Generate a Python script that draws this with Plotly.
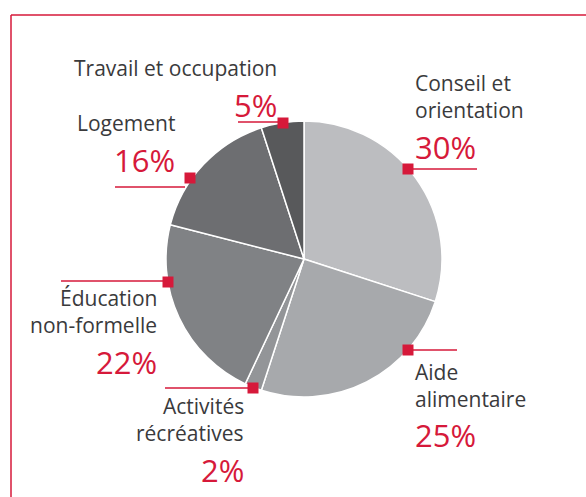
import plotly.graph_objects as go

W, H = 586, 497

categories = ["Conseil et orientation", "Aide alimentaire", "Activités récréatives",
              "Éducation non-formelle", "Logement", "Travail et occupation"]
values = [30, 25, 2, 22, 16, 5]
label_lines = [["Conseil et", "orientation"], ["Aide", "alimentaire"], ["Activités", "récréatives"],
               ["Éducation", "non-formelle"], ["Logement"], ["Travail et occupation"]]
pct_labels = [f"{v}%" for v in values]
slice_colors = ["#bcbdc0", "#a7a9ac", "#939598", "#808285", "#6d6e71", "#58595b"]

RED = "#d6193a"
TXT = "#3a3a3c"
FONT = "Open Sans"

def px(x, y):
    return x / W, 1 - y / H

cx, cy, r = 304, 259, 138

fig = go.Figure(go.Pie(
    labels=categories, values=values, sort=False, direction="clockwise", rotation=0,
    marker=dict(colors=slice_colors, line=dict(color="white", width=1.5)),
    textinfo="none", hoverinfo="label+percent", showlegend=False,
    domain=dict(x=[(cx - r) / W, (cx + r) / W], y=[1 - (cy + r) / H, 1 - (cy - r) / H]),
))

shapes = []
def line(x0, y0, x1, y1, w=1.5):
    a = px(x0, y0); b = px(x1, y1)
    shapes.append(dict(type="line", xref="paper", yref="paper", x0=a[0], y0=a[1], x1=b[0], y1=b[1],
                       line=dict(color=RED, width=w)))
def square(x, y, s=11):
    a = px(x - s / 2, y - s / 2); b = px(x + s / 2, y + s / 2)
    shapes.append(dict(type="rect", xref="paper", yref="paper", x0=a[0], y0=a[1], x1=b[0], y1=b[1],
                       fillcolor=RED, line=dict(width=0)))

# frame
line(11, 15, W + 2, 15)
line(11, 15, 11, H + 2)

# leader lines and markers (pixel layout)
leaders = [
    (408, 169, 408, 477, 169),
    (408, 350, 408, 457, 350),
    (253, 388, 165, 253, 388),
    (168, 282, 61, 168, 281),
    (190, 178, 115, 185, 187),
    (283, 123, 238, 283, 122),
]
for mx, my, lx0, lx1, ly in leaders:
    line(lx0, ly, lx1, ly)
    square(mx, my)

text_layout = [
    (413, "left", [90, 117], 157),
    (413, "left", [379, 406], 445),
    (246, "right", [413, 440], 480),
    (159, "right", [305, 332], 372),
    (177, "right", [130], 170),
    (279, "right", [75], 115),
]
FS, PFS = 21, 31
ann = []
for i, (tx, anc, bls, pbl) in enumerate(text_layout):
    for txt, bl in zip(label_lines[i], bls):
        x, y = px(tx, bl - 0.33 * FS)
        ann.append(dict(text=txt, x=x, y=y, xref="paper", yref="paper", xanchor=anc, yanchor="middle",
                        showarrow=False, font=dict(family=FONT, size=FS, color=TXT)))
    x, y = px(tx, pbl - 0.33 * PFS)
    ann.append(dict(text=pct_labels[i], x=x, y=y, xref="paper", yref="paper", xanchor=anc, yanchor="middle",
                    showarrow=False, font=dict(family=FONT, size=PFS, color=RED)))

fig.update_layout(width=W, height=H, margin=dict(l=0, r=0, t=0, b=0),
                  paper_bgcolor="white", plot_bgcolor="white",
                  shapes=shapes, annotations=ann)
fig.write_html("out.html", config={"displayModeBar": False},
               post_script="document.body.style.margin='0';")
